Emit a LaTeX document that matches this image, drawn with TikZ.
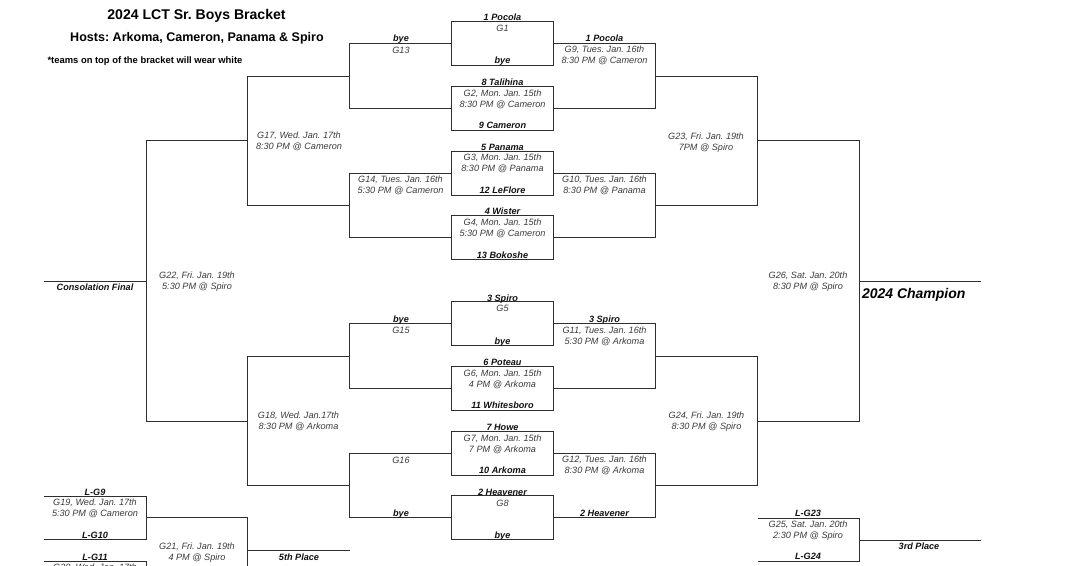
\documentclass[tikz,border=0pt]{standalone}
\usepackage{fontspec}
\setmainfont{Liberation Sans}
\frenchspacing
\newcommand{\smallfs}{\fontsize{6.85}{8.25}\selectfont}
\newcommand{\lab}[4]{\node[lbl,font=\smallfs\itshape] (#1) at (#2,#3) {\strut #4};}
\newcommand{\tlab}[4]{\node[lbl,teamcol,font=\smallfs\itshape\bfseries] (#1) at (#2,#3) {\strut #4};}
\newcommand{\gtwo}[5]{\node[lbl,font=\smallfs\itshape] (#1) at (#2,#3) {\strut #4\\\strut #5};}
\definecolor{linecol}{HTML}{2E2E2E}
\definecolor{textcol}{HTML}{3A3A3A}
\definecolor{teamcol}{HTML}{111111}
\tikzset{
  lbl/.style={inner sep=0pt,outer sep=0pt,align=center,text=textcol,yshift=-0.75pt},
  teamcol/.style={text=teamcol},
  wire/.style={draw=linecol,line width=0.9pt},
  gamebox/.style={draw=linecol,line width=0.9pt,minimum width=76.5pt,minimum height=33pt,inner sep=0pt,outer sep=0pt},
  head/.style={inner sep=0pt,outer sep=0pt,text=black,font=\bfseries}
}
\begin{document}
\begin{tikzpicture}[x=0.75pt,y=-0.75pt]
\useasboundingbox (0,0) rectangle (1078,566);
% first-round boxes
\node[gamebox] (g1) at (502.5,43.5) {};
\node[gamebox] (g2) at (502.5,108.5) {};
\node[gamebox] (g3) at (502.5,173.5) {};
\node[gamebox] (g4) at (502.5,237.5) {};
\node[gamebox] (g5) at (502.5,323.5) {};
\node[gamebox] (g6) at (502.5,388.5) {};
\node[gamebox] (g7) at (502.5,453.5) {};
\node[gamebox] (g8) at (502.5,517.5) {};
% junctions
\coordinate (w13) at (349.5,76.5);
\coordinate (w14) at (349.5,205.5);
\coordinate (w15) at (349.5,356.5);
\coordinate (w16) at (349.5,485.5);
\coordinate (e9) at (655.5,76.5);
\coordinate (e10) at (655.5,205.5);
\coordinate (e11) at (655.5,356.5);
\coordinate (e12) at (655.5,485.5);
\coordinate (w17) at (247.5,140.5);
\coordinate (w18) at (247.5,421.5);
\coordinate (e23) at (757.5,140.5);
\coordinate (e24) at (757.5,421.5);
\coordinate (w22) at (146.5,281.5);
\coordinate (e26) at (859.5,281.5);
\coordinate (consol) at (44,281.5);
\coordinate (champ) at (981,281.5);
% left side
\draw[wire] (g1.west) -| (w13) |- (g2.west);
\draw[wire] (g3.west) -| (w14) |- (g4.west);
\draw[wire] (g5.west) -| (w15) |- (g6.west);
\draw[wire] (g7.west) -| (w16) |- (g8.west);
\draw[wire] (w13) -| (w17) |- (w14);
\draw[wire] (w15) -| (w18) |- (w16);
\draw[wire] (w17) -| (w22) |- (w18);
\draw[wire] (w22) -- (consol);
% right side
\draw[wire] (g1.east) -| (e9) |- (g2.east);
\draw[wire] (g3.east) -| (e10) |- (g4.east);
\draw[wire] (g5.east) -| (e11) |- (g6.east);
\draw[wire] (g7.east) -| (e12) |- (g8.east);
\draw[wire] (e9) -| (e23) |- (e10);
\draw[wire] (e11) -| (e24) |- (e12);
\draw[wire] (e23) -| (e26) |- (e24);
\draw[wire] (e26) -- (champ);
% consolation, bottom left
\coordinate (c19a) at (44,496.5);
\coordinate (c19b) at (44,539.5);
\coordinate (c19m) at (146.5,517.5);
\coordinate (c21) at (247.5,517.5);
\coordinate (c21end) at (247.5,572);
\coordinate (c20a) at (44,561.5);
\coordinate (c20b) at (146.5,561.5);
\coordinate (c20end) at (146.5,572);
\coordinate (c5a) at (247.5,550.5);
\coordinate (c5b) at (350,550.5);
\draw[wire] (c19a) -| (c19m) |- (c19b);
\draw[wire] (c19m) -- (c21) -- (c21end);
\draw[wire] (c20a) -- (c20b) -- (c20end);
\draw[wire] (c5a) -- (c5b);
% third place
\coordinate (c25a) at (757.5,518.5);
\coordinate (c25b) at (757.5,561.5);
\coordinate (c25m) at (859.5,540.5);
\coordinate (c3rd) at (981,540.5);
\draw[wire] (c25a) -| (c25m) |- (c25b);
\draw[wire] (c25m) -- (c3rd);
% headings
\node[head,font=\fontsize{10.55}{12}\selectfont\bfseries] (title) at (196.5,15.5) {2024 LCT Sr. Boys Bracket};
\node[head,font=\fontsize{9.4}{12}\selectfont\bfseries] (hosts) at (197,38) {Hosts: Arkoma, Cameron, Panama \& Spiro};
\node[head,font=\fontsize{7.05}{8}\selectfont\bfseries] (note) at (145,61) {*teams on top of the bracket will wear white};
% first-round text
\tlab{t1}{502.5}{17}{1 Pocola}
\lab{l1}{502.5}{28.5}{G1}
\tlab{t1b}{502.5}{60}{bye}
\tlab{t8}{502.5}{82}{8 Talihina}
\gtwo{l2}{502.5}{98.5}{G2, Mon. Jan. 15th}{8:30 PM @ Cameron}
\tlab{t9}{502.5}{125}{9 Cameron}
\tlab{t5}{502.5}{147}{5 Panama}
\gtwo{l3}{502.5}{162.5}{G3, Mon. Jan. 15th}{8:30 PM @ Panama}
\tlab{t12}{502.5}{190}{12 LeFlore}
\tlab{t4}{502.5}{211}{4 Wister}
\gtwo{l4}{502.5}{227.5}{G4, Mon. Jan. 15th}{5:30 PM @ Cameron}
\tlab{t13}{502.5}{255}{13 Bokoshe}
\tlab{t3}{502.5}{298}{3 Spiro}
\lab{l5}{502.5}{308.5}{G5}
\tlab{t3b}{502.5}{341}{bye}
\tlab{t6}{502.5}{362}{6 Poteau}
\gtwo{l6}{502.5}{378.5}{G6, Mon. Jan. 15th}{4 PM @ Arkoma}
\tlab{t11}{502.5}{405}{11 Whitesboro}
\tlab{t7}{502.5}{427}{7 Howe}
\gtwo{l7}{502.5}{443.5}{G7, Mon. Jan. 15th}{7 PM @ Arkoma}
\tlab{t10}{502.5}{470}{10 Arkoma}
\tlab{t2}{502.5}{492}{2 Heavener}
\lab{l8}{502.5}{503}{G8}
\tlab{t2b}{502.5}{535}{bye}
% second round, left
\tlab{b13}{401}{38.5}{bye}
\lab{l13}{401}{50}{G13}
\gtwo{l14}{400.5}{184.5}{G14, Tues. Jan. 16th}{5:30 PM @ Cameron}
\tlab{b15}{401}{319}{bye}
\lab{l15}{401}{330}{G15}
\lab{l16}{401}{460}{G16}
\tlab{b16}{401}{513}{bye}
% second round, right
\tlab{r9}{604.5}{38.5}{1 Pocola}
\gtwo{l9}{604.5}{55}{G9, Tues. Jan. 16th}{8:30 PM @ Cameron}
\gtwo{l10}{604.5}{184.5}{G10, Tues. Jan. 16th}{8:30 PM @ Panama}
\tlab{r11}{604.5}{319}{3 Spiro}
\gtwo{l11}{604.5}{335.5}{G11, Tues. Jan. 16th}{5:30 PM @ Arkoma}
\gtwo{l12}{604.5}{465}{G12, Tues. Jan. 16th}{8:30 PM @ Arkoma}
\tlab{r12}{604.5}{513}{2 Heavener}
% later rounds
\gtwo{l17}{299}{141}{G17, Wed. Jan. 17th}{8:30 PM @ Cameron}
\gtwo{l18}{298.5}{421}{G18, Wed. Jan.17th}{8:30 PM @ Arkoma}
\gtwo{l23}{706}{141.5}{G23, Fri. Jan. 19th}{7PM @ Spiro}
\gtwo{l24}{706.5}{421}{G24, Fri. Jan. 19th}{8:30 PM @ Spiro}
\gtwo{l22}{197}{281}{G22, Fri. Jan. 19th}{5:30 PM @ Spiro}
\gtwo{l26}{808}{281}{G26, Sat. Jan. 20th}{8:30 PM @ Spiro}
\tlab{cf}{95}{287}{Consolation Final}
\node[head,anchor=west,font=\fontsize{10.5}{12}\selectfont\bfseries\itshape] (champion) at (862,295) {2024 Champion};
% consolation text
\tlab{lg9}{95}{492}{L-G9}
\gtwo{l19}{95}{508}{G19, Wed. Jan. 17th}{5:30 PM @ Cameron}
\tlab{lg10}{95}{535}{L-G10}
\tlab{lg11}{95}{557}{L-G11}
\lab{l20}{95}{567}{G20, Wed. Jan. 17th}
\gtwo{l21}{197}{551.5}{G21, Fri. Jan. 19th}{4 PM @ Spiro}
\tlab{fifth}{299}{557}{5th Place}
\tlab{lg23}{808}{513}{L-G23}
\gtwo{l25}{808}{529.5}{G25, Sat. Jan. 20th}{2:30 PM @ Spiro}
\tlab{lg24}{808}{556}{L-G24}
\tlab{third}{919}{546}{3rd Place}
\end{tikzpicture}
\end{document}
